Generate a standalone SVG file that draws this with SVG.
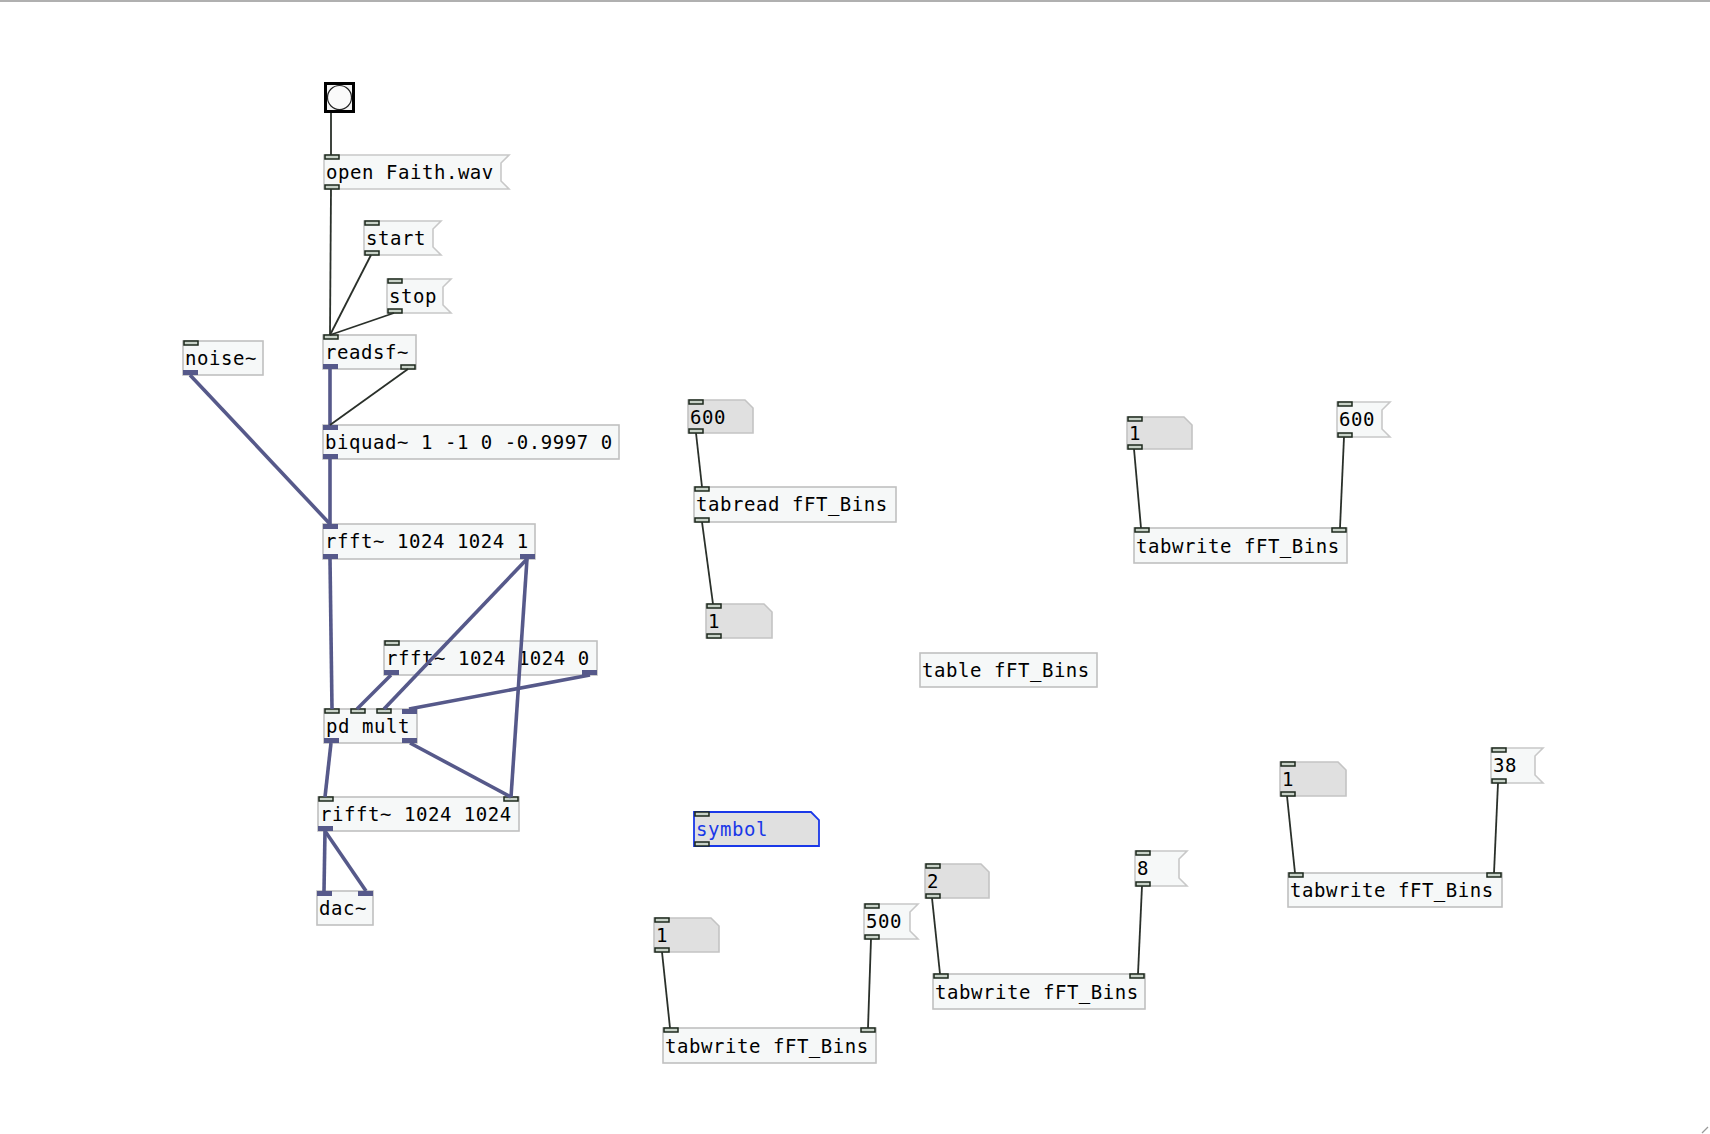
<svg xmlns="http://www.w3.org/2000/svg" width="1710" height="1134" viewBox="0 0 1710 1134">
<style>
.obj{fill:#f6f8f8;stroke:#c0c0c0;stroke-width:1.6}
.msg{fill:#f6f8f8;stroke:#c8c8c8;stroke-width:1.6}
.atom{fill:#e0e0e0;stroke:#c4c4c4;stroke-width:1.6}
.sym{fill:#e0e0e0;stroke:#1a38e8;stroke-width:1.8}
.t{font-family:"DejaVu Sans Mono","Liberation Mono",monospace;font-size:19px;letter-spacing:0.55px;fill:#000}
.tb{font-family:"DejaVu Sans Mono","Liberation Mono",monospace;font-size:19px;letter-spacing:0.55px;fill:#1a38e8}
.ci{fill:#c8d2c8;stroke:#1c281c;stroke-width:1.5}
.si{fill:#56598a}
.cc{stroke:#2a302a;stroke-width:1.8;fill:none}
.sc{stroke:#56598a;stroke-width:3.6;fill:none}
</style>
<rect x="0" y="0" width="1710" height="2" fill="#b0b0b0"/>
<g id="bang">
<rect x="325.5" y="83.5" width="28" height="28" fill="#f4f4f4" stroke="#000" stroke-width="3"/>
<circle cx="339.5" cy="97.5" r="12" fill="#fafafa" stroke="#222" stroke-width="1.2"/>
</g>
<g id="msg_open">
<polygon class="msg" points="324,155 509,155 501,163 501,181 509,189 324,189"/>
<text class="t" x="326" y="179">open Faith.wav</text>
<rect class="ci" x="325" y="155" width="14" height="4"/><rect class="ci" x="325" y="185" width="14" height="4"/>
</g>
<g id="msg_start">
<polygon class="msg" points="364,221 441,221 433,229 433,247 441,255 364,255"/>
<text class="t" x="366" y="245">start</text>
<rect class="ci" x="365" y="221" width="14" height="4"/><rect class="ci" x="365" y="251" width="14" height="4"/>
</g>
<g id="msg_stop">
<polygon class="msg" points="387,279 451,279 443,287 443,305 451,313 387,313"/>
<text class="t" x="389" y="303">stop</text>
<rect class="ci" x="388" y="279" width="14" height="4"/><rect class="ci" x="388" y="309" width="14" height="4"/>
</g>
<g id="readsf">
<rect class="obj" x="323" y="335" width="93" height="34"/>
<text class="t" x="325" y="359">readsf~</text>
<rect class="ci" x="324" y="335" width="14" height="4"/>
<rect class="si" x="323" y="364" width="15" height="5"/>
<rect class="ci" x="401" y="365" width="14" height="4"/>
</g>
<g id="noise">
<rect class="obj" x="183" y="341" width="80" height="34"/>
<text class="t" x="185" y="365">noise~</text>
<rect class="ci" x="184" y="341" width="14" height="4"/>
<rect class="si" x="183" y="370" width="15" height="5"/>
</g>
<g id="biquad">
<rect class="obj" x="323" y="425" width="296" height="34"/>
<text class="t" x="325" y="449">biquad~ 1 -1 0 -0.9997 0</text>
<rect class="si" x="323" y="425" width="15" height="5"/>
<rect class="si" x="323" y="454" width="15" height="5"/>
</g>
<g id="rfft1">
<rect class="obj" x="323" y="524" width="212" height="35"/>
<text class="t" x="325" y="548">rfft~ 1024 1024 1</text>
<rect class="si" x="323" y="524" width="15" height="5"/>
<rect class="si" x="323" y="554" width="15" height="5"/>
<rect class="si" x="520" y="554" width="15" height="5"/>
</g>
<g id="rfft0">
<rect class="obj" x="384" y="641" width="213" height="34"/>
<text class="t" x="386" y="665">rfft~ 1024 1024 0</text>
<rect class="ci" x="385" y="641" width="14" height="4"/>
<rect class="si" x="384" y="670" width="15" height="5"/>
<rect class="si" x="582" y="670" width="15" height="5"/>
</g>
<g id="pdmult">
<rect class="obj" x="324" y="709" width="93" height="34"/>
<text class="t" x="326" y="733">pd mult</text>
<rect class="ci" x="325" y="709" width="14" height="4"/>
<rect class="ci" x="351" y="709" width="14" height="4"/>
<rect class="ci" x="377" y="709" width="14" height="4"/>
<rect class="si" x="402" y="709" width="15" height="5"/>
<rect class="si" x="324" y="738" width="15" height="5"/>
<rect class="si" x="402" y="738" width="15" height="5"/>
</g>
<g id="rifft">
<rect class="obj" x="318" y="797" width="201" height="34"/>
<text class="t" x="320" y="821">rifft~ 1024 1024</text>
<rect class="ci" x="319" y="797" width="14" height="4"/>
<rect class="ci" x="504" y="797" width="14" height="4"/>
<rect class="si" x="318" y="826" width="15" height="5"/>
</g>
<g id="dac">
<rect class="obj" x="317" y="891" width="56" height="34"/>
<text class="t" x="319" y="915">dac~</text>
<rect class="si" x="317" y="891" width="15" height="5"/>
<rect class="si" x="358" y="891" width="15" height="5"/>
</g>
<g id="num600">
<polygon class="atom" points="688,400 745,400 753,408 753,433 688,433"/>
<text class="t" x="690" y="424">600</text>
<rect class="ci" x="689" y="400" width="14" height="4"/><rect class="ci" x="689" y="429" width="14" height="4"/>
</g>
<g id="tabread">
<rect class="obj" x="694" y="487" width="202" height="35"/>
<text class="t" x="696" y="511">tabread fFT_Bins</text>
<rect class="ci" x="695" y="487" width="14" height="4"/>
<rect class="ci" x="695" y="518" width="14" height="4"/>
</g>
<g id="num1a">
<polygon class="atom" points="706,604 764,604 772,612 772,638 706,638"/>
<text class="t" x="708" y="628">1</text>
<rect class="ci" x="707" y="604" width="14" height="4"/><rect class="ci" x="707" y="634" width="14" height="4"/>
</g>
<g id="table">
<rect class="obj" x="920" y="653" width="177" height="34"/>
<text class="t" x="922" y="677">table fFT_Bins</text>
</g>
<g id="num1b">
<polygon class="atom" points="1127,417 1184,417 1192,425 1192,449 1127,449"/>
<text class="t" x="1129" y="440">1</text>
<rect class="ci" x="1128" y="417" width="14" height="4"/><rect class="ci" x="1128" y="445" width="14" height="4"/>
</g>
<g id="msg600">
<polygon class="msg" points="1337,402 1390,402 1382,410 1382,429 1390,437 1337,437"/>
<text class="t" x="1339" y="426">600</text>
<rect class="ci" x="1338" y="402" width="14" height="4"/><rect class="ci" x="1338" y="433" width="14" height="4"/>
</g>
<g id="tabwriteA">
<rect class="obj" x="1134" y="528" width="213" height="35"/>
<text class="t" x="1136" y="553">tabwrite fFT_Bins</text>
<rect class="ci" x="1135" y="528" width="14" height="4"/>
<rect class="ci" x="1332" y="528" width="14" height="4"/>
</g>
<g id="symbol">
<polygon class="sym" points="694,812 811,812 819,820 819,846 694,846"/>
<text class="tb" x="696" y="836">symbol</text>
<rect class="ci" x="695" y="812" width="14" height="4"/><rect class="ci" x="695" y="842" width="14" height="4"/>
</g>
<g id="num1c">
<polygon class="atom" points="654,918 711,918 719,926 719,952 654,952"/>
<text class="t" x="656" y="942">1</text>
<rect class="ci" x="655" y="918" width="14" height="4"/><rect class="ci" x="655" y="948" width="14" height="4"/>
</g>
<g id="msg500">
<polygon class="msg" points="864,904 918,904 910,912 910,931 918,939 864,939"/>
<text class="t" x="866" y="928">500</text>
<rect class="ci" x="865" y="904" width="14" height="4"/><rect class="ci" x="865" y="935" width="14" height="4"/>
</g>
<g id="tabwriteB">
<rect class="obj" x="663" y="1028" width="213" height="35"/>
<text class="t" x="665" y="1053">tabwrite fFT_Bins</text>
<rect class="ci" x="664" y="1028" width="14" height="4"/>
<rect class="ci" x="861" y="1028" width="14" height="4"/>
</g>
<g id="num2">
<polygon class="atom" points="925,864 981,864 989,872 989,898 925,898"/>
<text class="t" x="927" y="888">2</text>
<rect class="ci" x="926" y="864" width="14" height="4"/><rect class="ci" x="926" y="894" width="14" height="4"/>
</g>
<g id="msg8">
<polygon class="msg" points="1135,851 1187,851 1179,859 1179,878 1187,886 1135,886"/>
<text class="t" x="1137" y="875">8</text>
<rect class="ci" x="1136" y="851" width="14" height="4"/><rect class="ci" x="1136" y="882" width="14" height="4"/>
</g>
<g id="tabwriteC">
<rect class="obj" x="933" y="974" width="212" height="35"/>
<text class="t" x="935" y="999">tabwrite fFT_Bins</text>
<rect class="ci" x="934" y="974" width="14" height="4"/>
<rect class="ci" x="1130" y="974" width="14" height="4"/>
</g>
<g id="num1d">
<polygon class="atom" points="1280,762 1338,762 1346,770 1346,796 1280,796"/>
<text class="t" x="1282" y="786">1</text>
<rect class="ci" x="1281" y="762" width="14" height="4"/><rect class="ci" x="1281" y="792" width="14" height="4"/>
</g>
<g id="msg38">
<polygon class="msg" points="1491,748 1543,748 1535,756 1535,775 1543,783 1491,783"/>
<text class="t" x="1493" y="772">38</text>
<rect class="ci" x="1492" y="748" width="14" height="4"/><rect class="ci" x="1492" y="779" width="14" height="4"/>
</g>
<g id="tabwriteD">
<rect class="obj" x="1288" y="873" width="214" height="34"/>
<text class="t" x="1290" y="897">tabwrite fFT_Bins</text>
<rect class="ci" x="1289" y="873" width="14" height="4"/>
<rect class="ci" x="1487" y="873" width="14" height="4"/>
</g>
<g id="connectors">
<path class="cc" d="M331,113 L331,155"/>
<path class="cc" d="M331,189 L330,335"/>
<path class="cc" d="M371,255 L330,335"/>
<path class="cc" d="M394,313 L330,335"/>
<path class="sc" d="M330,369 L330,425"/>
<path class="cc" d="M408,369 L330,425"/>
<path class="sc" d="M330,459 L330,524"/>
<path class="sc" d="M190,375 L330,524"/>
<path class="sc" d="M330,559 L332,709"/>
<path class="sc" d="M527,559 L384,709"/>
<path class="sc" d="M527,559 L511,797"/>
<path class="sc" d="M391,675 L357,709"/>
<path class="sc" d="M590,675 L409,709"/>
<path class="sc" d="M331,743 L325,797"/>
<path class="sc" d="M410,743 L511,797"/>
<path class="sc" d="M325,831 L324,891"/>
<path class="sc" d="M325,831 L366,891"/>
<path class="cc" d="M696,433 L702,487"/>
<path class="cc" d="M702,522 L713,604"/>
<path class="cc" d="M1134,449 L1141,528"/>
<path class="cc" d="M1344,437 L1340,528"/>
<path class="cc" d="M662,952 L670,1028"/>
<path class="cc" d="M871,939 L868,1028"/>
<path class="cc" d="M932,898 L940,974"/>
<path class="cc" d="M1142,886 L1138,974"/>
<path class="cc" d="M1287,796 L1295,873"/>
<path class="cc" d="M1498,783 L1494,873"/>
</g>
<path d="M1702,1133 L1708,1127" stroke="#999" stroke-width="1.2"/>
</svg>
